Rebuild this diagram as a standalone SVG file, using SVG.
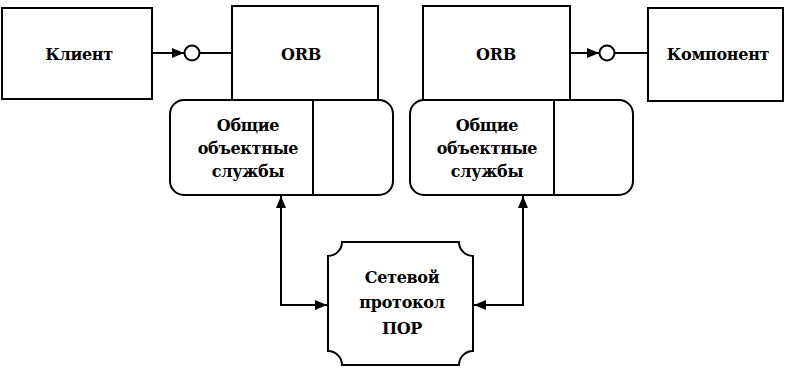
<svg xmlns="http://www.w3.org/2000/svg" width="785" height="368" viewBox="0 0 785 368">
<defs>
<style>
.b{fill:#fff;stroke:#000;stroke-width:2}
.t{font-family:"DejaVu Serif","Liberation Serif",serif;font-weight:bold;font-size:16px;letter-spacing:-0.3px;fill:#000;text-anchor:middle}
.c{fill:none;stroke:#000;stroke-width:2}
</style>
<marker id="ah" viewBox="0 0 12 10" refX="12" refY="5" markerWidth="12" markerHeight="10" markerUnits="userSpaceOnUse" orient="auto">
<path d="M0,0 L12,5 L0,10 Z" fill="#000"/>
</marker>
</defs>
<rect width="785" height="368" fill="#fff"/>
<g id="client"><rect class="b" x="2" y="8" width="150" height="91"/><text class="t" x="79" y="60">Клиент</text></g>
<g id="orb1"><rect class="b" x="232" y="6" width="146" height="94"/><text class="t" x="301" y="60">ORB</text></g>
<g id="orb2"><rect class="b" x="423" y="6" width="147" height="94"/><text class="t" x="496" y="60">ORB</text></g>
<g id="component"><rect class="b" x="648" y="8" width="135" height="93"/><text class="t" x="718" y="60">Компонент</text></g>
<g id="services1"><rect class="b" x="170" y="100" width="223" height="95" rx="14"/><line class="c" x1="313" y1="100" x2="313" y2="195"/>
<text class="t" x="248" y="131">Общие</text><text class="t" x="248" y="154">объектные</text><text class="t" x="248" y="177">службы</text></g>
<g id="services2"><rect class="b" x="410" y="100" width="223" height="95" rx="14"/><line class="c" x1="554" y1="100" x2="554" y2="195"/>
<text class="t" x="487" y="131">Общие</text><text class="t" x="487" y="154">объектные</text><text class="t" x="487" y="177">службы</text></g>
<g id="protocol"><path class="b" d="M342,242 H459 A14,14 0 0 0 473,256 V351 A14,14 0 0 0 459,365 H342 A14,14 0 0 0 328,351 V256 A14,14 0 0 0 342,242 Z"/>
<text class="t" x="402" y="283">Сетевой</text><text class="t" x="402" y="308">протокол</text><text class="t" x="402" y="334">ПОР</text></g>
<g id="connectors">
<line class="c" x1="152" y1="53" x2="184" y2="53" marker-end="url(#ah)"/>
<circle class="c" cx="192" cy="53" r="7.5"/>
<line class="c" x1="199.5" y1="53" x2="232" y2="53"/>
<line class="c" x1="570" y1="53" x2="599" y2="53" marker-end="url(#ah)"/>
<circle class="c" cx="607" cy="53" r="7.5"/>
<line class="c" x1="614.5" y1="53" x2="648" y2="53"/>
<path class="c" d="M281,196 V305 H327" marker-end="url(#ah)"/>
<path class="c" d="M281,305 V196" marker-end="url(#ah)"/>
<path class="c" d="M523,196 V305 H474" marker-end="url(#ah)"/>
<path class="c" d="M523,305 V196" marker-end="url(#ah)"/>
</g>
</svg>
